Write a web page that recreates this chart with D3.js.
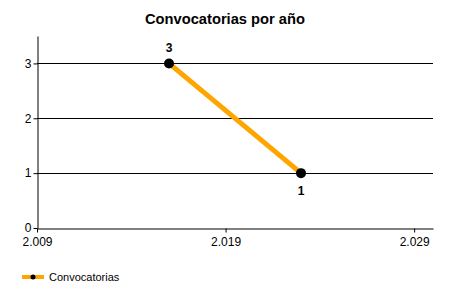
<!DOCTYPE html>
<html>
<head>
<meta charset="utf-8">
<script src="https://cdn.jsdelivr.net/npm/d3@7"></script>
<style>
  body { margin: 0; background: #fff; }
  text { font-family: "Liberation Sans", Arial, sans-serif; }
</style>
</head>
<body>
<script>
const years = [2016, 2023];
const counts = [3, 1];
const xTicks = [2009, 2019, 2029];
const yTicks = [0, 1, 2, 3];
const seriesName = "Convocatorias";
const title = "Convocatorias por año";

const margin = { top: 36, right: 17, bottom: 72, left: 37 },
    width = 450 - margin.left - margin.right,
    height = 300 - margin.top - margin.bottom;

const svg = d3.select("body").append("svg")
    .attr("width", 450)
    .attr("height", 300);

svg.append("text")
    .attr("x", 225)
    .attr("y", 24)
    .style("text-anchor", "middle")
    .style("font-weight", "bold")
    .style("font-size", "14.7px")
    .text(title);

const g = svg.append("g")
    .attr("transform", "translate(" + margin.left + "," + margin.top + ")");

const x = d3.scaleLinear().domain([2009, 2030]).range([0, width]);
const y = d3.scaleLinear().domain([0, 3.5]).range([height, 0]);

// gridlines
g.selectAll(".grid")
    .data(yTicks.filter(d => d > 0))
    .enter().append("line")
    .attr("x1", 0).attr("x2", width)
    .attr("y1", d => Math.round(y(d)) + 0.5)
    .attr("y2", d => Math.round(y(d)) + 0.5)
    .attr("stroke", "#000");

// years shown with a dot as thousands separator, e.g. 2.009
const xAxis = d3.axisBottom(x).tickValues(xTicks).tickSize(4).tickSizeOuter(0)
    .tickFormat(d => (d / 1000).toFixed(3));
const yAxis = d3.axisLeft(y).tickValues(yTicks).tickSize(4).tickSizeOuter(0)
    .tickFormat(d3.format("d"));

const xa = g.append("g")
    .attr("transform", "translate(0," + (Math.round(height) + 0.5) + ")")
    .call(xAxis);
const ya = g.append("g")
    .attr("transform", "translate(0.5,0)")
    .call(yAxis);

[xa, ya].forEach(a => {
    a.select(".domain").attr("stroke", "#000");
    a.selectAll(".tick line").attr("stroke", "#000");
    a.selectAll("text")
        .style("font-size", "12px")
        .style("font-family", "\"Liberation Sans\", Arial, sans-serif")
        .attr("fill", "#000");
});
xa.selectAll("text").attr("dy", "0.9em");
ya.selectAll("text").attr("x", -6);

const pts = years.map((yr, i) => ({ yr: yr, v: counts[i] }));

const line = d3.line()
    .x(d => x(d.yr))
    .y(d => y(d.v));

g.append("path")
    .datum(pts)
    .attr("fill", "none")
    .attr("stroke", "#FFA500")
    .attr("stroke-width", 5)
    .attr("d", line);

g.selectAll(".dot")
    .data(pts)
    .enter().append("circle")
    .attr("cx", d => x(d.yr))
    .attr("cy", d => y(d.v))
    .attr("r", 5)
    .attr("fill", "#000");

g.selectAll(".lbl")
    .data(pts)
    .enter().append("text")
    .attr("x", d => x(d.yr))
    .attr("y", (d, i) => i === 0 ? y(d.v) - 11 : y(d.v) + 22)
    .style("text-anchor", "middle")
    .style("font-weight", "bold")
    .style("font-size", "12px")
    .text(d => d.v);

// legend
const lg = svg.append("g").attr("transform", "translate(22,277)");
lg.append("line")
    .attr("x1", 0).attr("x2", 22).attr("y1", 0).attr("y2", 0)
    .attr("stroke", "#FFA500").attr("stroke-width", 4);
lg.append("circle").attr("cx", 11).attr("cy", 0).attr("r", 2.5).attr("fill", "#000");
lg.append("text")
    .attr("x", 27).attr("y", 4)
    .style("font-size", "11px")
    .text(seriesName);
</script>
</body>
</html>
